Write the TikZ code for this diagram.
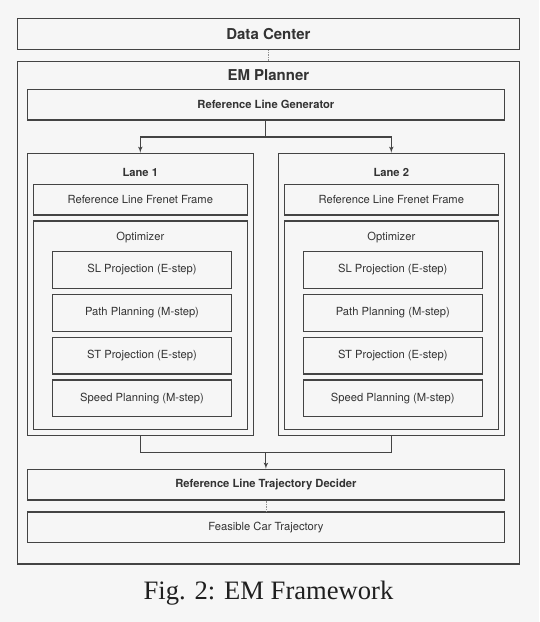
\documentclass[tikz,border=0pt]{standalone}
\usepackage{fontspec}
\setmainfont{TeX Gyre Heros}
\newfontfamily\capfont{Liberation Serif}
\usetikzlibrary{shapes,arrows}
\definecolor{bgcol}{HTML}{F6F6F6}
\definecolor{edgecol}{HTML}{444444}
\definecolor{txtcol}{HTML}{333333}
\tikzstyle{plainbox} = [rectangle, draw=edgecol, line width=1.1pt, text=txtcol,
    inner sep=0pt]
\tikzstyle{bigbox} = [plainbox, minimum width=502pt,
    font=\fontsize{15}{18}\selectfont\bfseries]
\tikzstyle{block} = [plainbox, minimum width=477.4pt, minimum height=30.7pt,
    font=\fontsize{11.2}{13}\selectfont]
\tikzstyle{lane} = [plainbox, minimum width=226pt, minimum height=282.4pt]
\tikzstyle{blockm} = [plainbox, minimum width=214pt,
    font=\fontsize{11.2}{13}\selectfont]
\tikzstyle{blockmi} = [plainbox, minimum width=179.4pt, minimum height=36.8pt,
    font=\fontsize{11.2}{13}\selectfont]
\tikzstyle{label} = [text=txtcol, inner sep=0pt, font=\fontsize{11.2}{13}\selectfont]
\tikzstyle{line} = [draw=edgecol, line width=1.1pt, -latex']
\tikzstyle{link} = [draw=edgecol!60, line width=0.7pt, densely dotted]

\begin{document}
\begin{tikzpicture}[x=1pt, y=-1pt, node distance=42.8pt]
    \fill[bgcol] (0,0) rectangle (539,622);
    \useasboundingbox (0,0) rectangle (539,622);

    % Place nodes
    \node [bigbox, minimum height=31.4pt] (center) at (268.4,34) {Data Center};
    \node [bigbox, minimum height=502.3pt] (planner) at (268.4,312.85) {};
    \node [label, font=\fontsize{15}{18}\selectfont\bfseries] (ptitle) at (268.4,75)
    {EM Planner};
    \node [block, font=\fontsize{11.2}{13}\selectfont\bfseries] (rlg) at (265.9,104.65)
    {Reference Line Generator};
    \node [lane] (lane1) at (140.3,294.5) {};
    \node [lane] (lane2) at (391.3,294.5) {};
    \node [label, font=\fontsize{11.2}{13}\selectfont\bfseries] (ltitle1) at (140.3,172.7)
    {Lane 1};
    \node [label, font=\fontsize{11.2}{13}\selectfont\bfseries] (ltitle2) at (391.3,172.7)
    {Lane 2};
    \node [blockm, minimum height=30.7pt] (frenet1) at (140.3,199.65)
    {Reference Line Frenet Frame};
    \node [blockm, minimum height=30.7pt] (frenet2) at (391.3,199.65)
    {Reference Line Frenet Frame};
    \node [blockm, minimum height=208.3pt] (opt1) at (140.3,325.15) {};
    \node [blockm, minimum height=208.3pt] (opt2) at (391.3,325.15) {};
    \node [label] (otitle1) at (140.3,237.3) {Optimizer};
    \node [label] (otitle2) at (391.3,237.3) {Optimizer};
    \node [blockmi] (sl1) at (142,270) {SL Projection (E-step)};
    \node [blockmi, below of=sl1] (path1) {Path Planning (M-step)};
    \node [blockmi, below of=path1] (st1) {ST Projection (E-step)};
    \node [blockmi, below of=st1] (speed1) {Speed Planning (M-step)};
    \node [blockmi] (sl2) at (392.8,270) {SL Projection (E-step)};
    \node [blockmi, below of=sl2] (path2) {Path Planning (M-step)};
    \node [blockmi, below of=path2] (st2) {ST Projection (E-step)};
    \node [blockmi, below of=st2] (speed2) {Speed Planning (M-step)};
    \node [block, font=\fontsize{11.2}{13}\selectfont\bfseries] (decider) at (265.9,484.65)
    {Reference Line Trajectory Decider};
    \node [block] (traj) at (265.9,527.35) {Feasible Car Trajectory};
    \node [text=black!88, font=\capfont\fontsize{26.6}{30}\selectfont] (caption)
    at (268.5,593) {Fig. 2: EM Framework};
    \coordinate (split) at (265.9,137);
    \coordinate (merge) at (265.9,452.3);

    % Draw edges
    \path [link] (center) -- (planner.north);
    \draw [draw=edgecol, line width=1.1pt] (rlg.south) -- (split);
    \path [line] (split) -| (lane1.north);
    \path [line] (split) -| (lane2.north);
    \draw [draw=edgecol, line width=1.1pt] (lane1.south) |- (merge) -| (lane2.south);
    \path [line] (merge) -- (decider.north);
    \path [link] (decider) -- (traj);

\end{tikzpicture}
\end{document}
